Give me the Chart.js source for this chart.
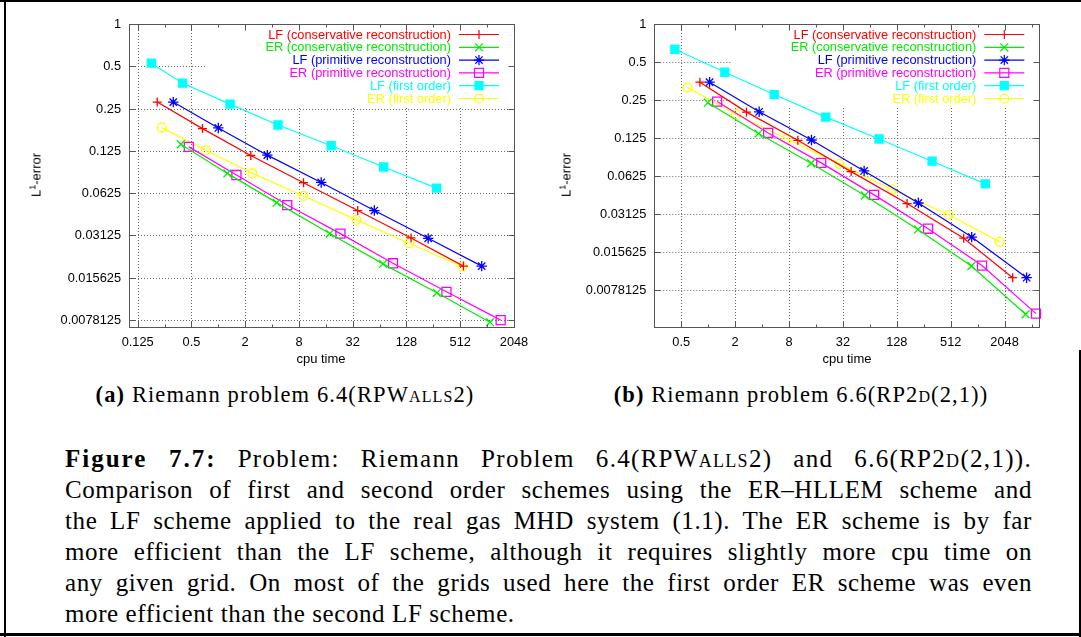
<!DOCTYPE html>
<html>
<head>
<meta charset="utf-8">
<script src="https://cdn.jsdelivr.net/npm/chart.js@4.4.1/dist/chart.umd.min.js"></script>
<style>
  html, body { margin: 0; padding: 0; background: #fff; }
  #page { position: relative; width: 1081px; height: 637px; overflow: hidden; background: #fff; color: #000; }
  canvas { position: absolute; top: 0; }
  #cA { left: 0; }
  #cB { left: 530px; }
  .rule { position: absolute; background: #000; }
  .ytitle { position: absolute; font: 13px/15px "Liberation Sans", Arial, sans-serif; white-space: nowrap;
            transform: translate(-50%, -50%) rotate(-90deg); }
  .ytitle sup { font-size: 9px; vertical-align: 5px; line-height: 0; }
  .xtitle { position: absolute; top: 351px; font: 13px/15px "Liberation Sans", Arial, sans-serif; white-space: nowrap;
            transform: translateX(-50%); }
  .sub { position: absolute; top: 382px; font: 22.5px/26px "Liberation Serif", serif; letter-spacing: 1.1px;
         white-space: nowrap; transform: translateX(-50%); }
  .sc { font-variant: small-caps; }
  #cap { position: absolute; left: 65px; top: 443px; width: 967px; font: 25px/31px "Liberation Serif", serif; letter-spacing: .6px; }
  #cap div { text-align: justify; text-align-last: justify; white-space: nowrap; }
  #cap div.first { letter-spacing: 1.3px; }
  #cap div.first b { letter-spacing: 2px; }
  #cap div.last { text-align-last: left; }
</style>
</head>
<body>
<div id="page">
  <canvas id="cA" width="530" height="360"></canvas>
  <canvas id="cB" width="551" height="360"></canvas>

  <div class="ytitle" style="left:36px;top:175px">L<sup>1</sup>-error</div>
  <div class="ytitle" style="left:566px;top:175px">L<sup>1</sup>-error</div>
  <div class="xtitle" style="left:321px">cpu time</div>
  <div class="xtitle" style="left:847px">cpu time</div>

  <div class="sub" style="left:285px"><b>(a)</b> Riemann problem 6.4(RP<span class="sc">Walls</span>2)</div>
  <div class="sub" style="left:801px"><b>(b)</b> Riemann problem 6.6(RP2<span class="sc">d</span>(2,1))</div>

  <div id="cap">
    <div class="first"><b>Figure 7.7:</b> Problem: Riemann Problem 6.4(RP<span class="sc">Walls</span>2) and 6.6(RP2<span class="sc">d</span>(2,1)).</div>
    <div>Comparison of first and second order schemes using the ER–HLLEM scheme and</div>
    <div>the LF scheme applied to the real gas MHD system (1.1). The ER scheme is by far</div>
    <div>more efficient than the LF scheme, although it requires slightly more cpu time on</div>
    <div>any given grid. On most of the grids used here the first order ER scheme was even</div>
    <div class="last">more efficient than the second LF scheme.</div>
  </div>

  <div class="rule" style="left:0;top:0;width:1081px;height:2px"></div>
  <div class="rule" style="left:4px;top:0;width:2px;height:637px"></div>
  <div class="rule" style="left:1079px;top:350px;width:2px;height:287px"></div>
  <div class="rule" style="left:0;top:633px;width:1081px;height:3px"></div>
</div>

<script>
/* ---------- data: tick values + labels ---------- */
const yTicks = [1, 0.5, 0.25, 0.125, 0.0625, 0.03125, 0.015625, 0.0078125];
const yTickLabels = ['1', '0.5', '0.25', '0.125', '0.0625', '0.03125', '0.015625', '0.0078125'];

const xTicksA = [0.125, 0.5, 2, 8, 32, 128, 512, 2048];
const xTickLabelsA = ['0.125', '0.5', '2', '8', '32', '128', '512', '2048'];
const xMinorA = [0.25, 1, 4, 16, 64, 256, 1024];

const xTicksB = [0.5, 2, 8, 32, 128, 512, 2048];
const xTickLabelsB = ['0.5', '2', '8', '32', '128', '512', '2048'];
const xMinorB = [1, 4, 16, 64, 256, 1024, 4096];

const seriesNames = [
  'LF (conservative reconstruction)',
  'ER (conservative reconstruction)',
  'LF (primitive reconstruction)',
  'ER (primitive reconstruction)',
  'LF (first order)',
  'ER (first order)'
];

/* ---------- (a) RPWalls2 : cpu time / L1 error ---------- */
const aLFconsX = [0.207, 0.665, 2.31, 9.0, 36.4, 144, 556];
const aLFconsY = [0.278, 0.180, 0.1158, 0.0742, 0.0470, 0.0300, 0.0189];
const aERconsX = [0.381, 1.265, 4.5, 17.7, 69.9, 280, 1104];
const aERconsY = [0.1394, 0.0864, 0.0535, 0.0322, 0.0196, 0.0122, 0.00754];
const aLFprimX = [0.313, 1.0, 3.54, 14.2, 55.9, 224, 891];
const aLFprimY = [0.278, 0.182, 0.1165, 0.0745, 0.0470, 0.0298, 0.0189];
const aERprimX = [0.468, 1.595, 5.92, 23.3, 90.4, 359, 1453];
const aERprimY = [0.1334, 0.0841, 0.0514, 0.0322, 0.0198, 0.0124, 0.0078];
const aLFfirstX = [0.178, 0.398, 1.355, 4.66, 18.35, 71.1, 278];
const aLFfirstY = [0.526, 0.379, 0.269, 0.191, 0.1358, 0.096, 0.0679];
const aERfirstX = [0.232, 0.724, 2.41, 9.0, 35.2, 137.6, 542];
const aERfirstY = [0.183, 0.1264, 0.0864, 0.0597, 0.0403, 0.0275, 0.0187];

/* ---------- (b) RP2D(2,1) ---------- */
const bLFconsX = [0.808, 2.68, 10.03, 39.5, 166.7, 715, 2520];
const bLFconsY = [0.346, 0.2004, 0.1198, 0.0677, 0.0378, 0.0201, 0.00978];
const bERconsX = [0.992, 3.65, 14.1, 56.1, 221, 871, 3520];
const bERconsY = [0.238, 0.1355, 0.0789, 0.0438, 0.0236, 0.0121, 0.00502];
const bLFprimX = [1.036, 3.71, 14.25, 55.2, 223, 879, 3611];
const bLFprimY = [0.346, 0.2016, 0.1205, 0.0685, 0.0382, 0.0205, 0.00978];
const bERprimX = [1.26, 4.68, 18.3, 71.4, 286, 1146, 4589];
const bERprimY = [0.243, 0.137, 0.0794, 0.0443, 0.0239, 0.0122, 0.00508];
const bLFfirstX = [0.425, 1.536, 5.46, 20.6, 81.1, 317, 1248];
const bLFfirstY = [0.631, 0.415, 0.276, 0.183, 0.1228, 0.0819, 0.0541];
const bERfirstX = [0.588, 2.04, 7.56, 29.3, 113.3, 486, 1804];
const bERfirstY = [0.314, 0.1932, 0.1228, 0.0780, 0.0488, 0.0308, 0.0188];

/* ---------- styles (gnuplot-ish) ---------- */
const NONE = 'rgba(0,0,0,0)';
const styles = [
  { color: '#ff0000', pointStyle: 'cross',    radius: 4.5, fill: NONE },
  { color: '#00ee00', pointStyle: 'crossRot', radius: 5.6, fill: NONE },
  { color: '#0000ff', pointStyle: 'star',     radius: 5.2, fill: NONE },
  { color: '#ff00ff', pointStyle: 'rect',     radius: 6.4, fill: NONE },
  { color: '#00ffff', pointStyle: 'rect',     radius: 5.7, fill: '#00ffff' },
  { color: '#ffff00', pointStyle: 'circle',   radius: 4.4, fill: NONE }
];
const FONT = '"Liberation Sans", Arial, sans-serif';
const TICKFONT = '12.8px ' + FONT;

function pts(xs, ys){ return xs.map((x, i) => ({ x, y: ys[i] })); }

function makeSets(list){
  return list.map(([xs, ys], i) => ({
    label: seriesNames[i],
    data: pts(xs, ys),
    showLine: true,
    borderColor: styles[i].color,
    borderWidth: 1.2,
    pointStyle: styles[i].pointStyle,
    pointRadius: styles[i].radius,
    pointBorderWidth: 1.3,
    pointBorderColor: styles[i].color,
    pointBackgroundColor: styles[i].fill,
    backgroundColor: styles[i].fill,
    tension: 0,
    clip: false
  }));
}

function line(ctx, x1, y1, x2, y2){ ctx.beginPath(); ctx.moveTo(x1, y1); ctx.lineTo(x2, y2); ctx.stroke(); }

/* grid, frame, inward ticks, tick labels and key box */
const gnuFrame = {
  id: 'gnuFrame',
  beforeDatasetsDraw(chart, args, o){
    const { ctx, chartArea: a, scales: { x, y } } = chart;
    ctx.save();
    ctx.strokeStyle = '#6a6a6a'; ctx.lineWidth = 1; ctx.setLineDash([1, 2]);
    o.xTicks.forEach(v => {
      const px = Math.round(x.getPixelForValue(v)) + .5;
      if (px > a.left + 2 && px < a.right - 2) line(ctx, px, a.top, px, a.bottom);
    });
    o.yTicks.forEach(v => {
      const py = Math.round(y.getPixelForValue(v)) + .5;
      if (py > a.top + 2 && py < a.bottom - 2) line(ctx, a.left, py, a.right, py);
    });
    ctx.setLineDash([]);
    ctx.fillStyle = '#fff';
    ctx.fillRect(a.right - 308, a.top + 1, 307, 81);
    ctx.restore();
  },
  afterDatasetsDraw(chart, args, o){
    const { ctx, chartArea: a, scales: { x, y } } = chart;
    ctx.save();
    ctx.strokeStyle = '#555'; ctx.lineWidth = 1;
    const L = Math.round(a.left) + .5, R = Math.round(a.right) + .5, T = Math.round(a.top) + .5, B = Math.round(a.bottom) + .5;
    ctx.strokeRect(L, T, R - L, B - T);
    o.xTicks.forEach(v => { const px = Math.round(x.getPixelForValue(v)) + .5; line(ctx, px, B, px, B - 6); line(ctx, px, T, px, T + 6); });
    o.xMinor.forEach(v => { const px = Math.round(x.getPixelForValue(v)) + .5; line(ctx, px, B, px, B - 3); line(ctx, px, T, px, T + 3); });
    o.yTicks.forEach(v => { const py = Math.round(y.getPixelForValue(v)) + .5; line(ctx, L, py, L + 6, py); line(ctx, R, py, R - 6, py); });

    // tick labels
    ctx.fillStyle = '#000'; ctx.font = TICKFONT;
    ctx.textAlign = 'right'; ctx.textBaseline = 'middle';
    o.yTicks.forEach((v, i) => ctx.fillText(o.yLabels[i], a.left - 8, y.getPixelForValue(v) + 0.5));
    ctx.textAlign = 'center'; ctx.textBaseline = 'alphabetic';
    o.xTicks.forEach((v, i) => ctx.fillText(o.xLabels[i], x.getPixelForValue(v), a.bottom + 19.5));

    // key
    chart.data.datasets.forEach((d, i) => {
      const yy = a.top + 10.5 + i * 12.8;
      ctx.font = '12.8px ' + FONT; ctx.textAlign = 'right'; ctx.textBaseline = 'middle';
      ctx.fillStyle = d.borderColor;
      ctx.fillText(d.label, a.right - 63, yy + 0.5);
      ctx.strokeStyle = d.borderColor; ctx.lineWidth = d.borderWidth;
      line(ctx, a.right - 55, yy, a.right - 15, yy);
      ctx.fillStyle = d.pointBackgroundColor;
      Chart.helpers.drawPoint(ctx, { pointStyle: d.pointStyle, radius: d.pointRadius, borderWidth: d.pointBorderWidth, rotation: 0 }, a.right - 35, yy);
    });
    ctx.restore();
  }
};

function makeChart(id, sets, cfg){
  return new Chart(document.getElementById(id), {
    type: 'scatter',
    data: { datasets: makeSets(sets) },
    options: {
      responsive: false, animation: false, devicePixelRatio: 1,
      layout: { padding: { left: 0, top: 24, right: cfg.padR, bottom: 0 } },
      plugins: { legend: { display: false }, tooltip: { enabled: false },
        gnuFrame: { xTicks: cfg.xTicks, xLabels: cfg.xLabels, xMinor: cfg.xMinor, yTicks: yTicks, yLabels: yTickLabels } },
      scales: {
        x: {
          type: 'logarithmic', min: cfg.xMin, max: cfg.xMax,
          grid: { display: false, drawTicks: false }, border: { display: false },
          afterBuildTicks: s => { s.ticks = cfg.xTicks.map(v => ({ value: v })); },
          afterFit: s => { s.height = 33.3; },
          ticks: { display: false }
        },
        y: {
          type: 'logarithmic', min: cfg.yMin, max: 1,
          grid: { display: false, drawTicks: false }, border: { display: false },
          afterBuildTicks: s => { s.ticks = yTicks.map(v => ({ value: v })); },
          afterFit: s => { s.width = cfg.yWidth; },
          ticks: { display: false }
        }
      }
    },
    plugins: [gnuFrame]
  });
}

makeChart('cA', [
  [aLFconsX, aLFconsY], [aERconsX, aERconsY], [aLFprimX, aLFprimY],
  [aERprimX, aERprimY], [aLFfirstX, aLFfirstY], [aERfirstX, aERfirstY]
], { xMin: 0.1, xMax: 2048, yMin: 0.007, xTicks: xTicksA, xLabels: xTickLabelsA, xMinor: xMinorA, yWidth: 129, padR: 16 });

makeChart('cB', [
  [bLFconsX, bLFconsY], [bERconsX, bERconsY], [bLFprimX, bLFprimY],
  [bERprimX, bERprimY], [bLFfirstX, bLFfirstY], [bERfirstX, bERfirstY]
], { xMin: 0.25, xMax: 5000, yMin: 0.004, xTicks: xTicksB, xLabels: xTickLabelsB, xMinor: xMinorB, yWidth: 124.3, padR: 41.7 });
</script>
</body>
</html>
